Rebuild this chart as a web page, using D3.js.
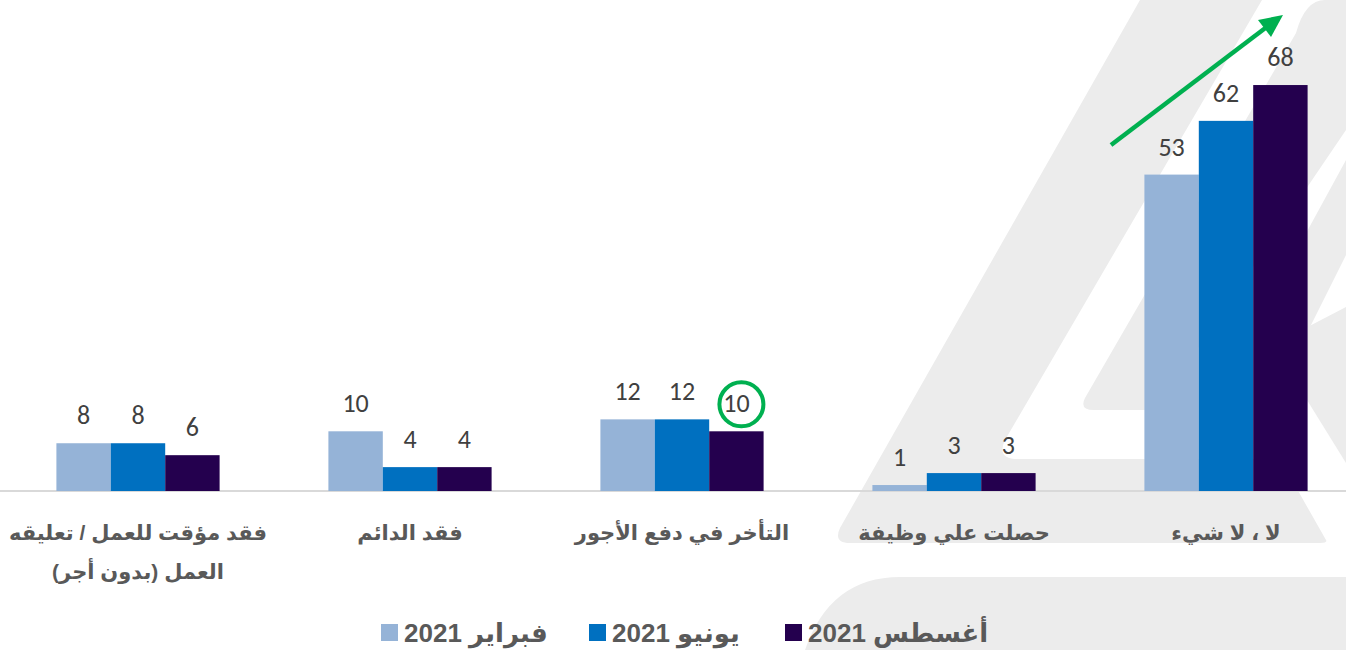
<!DOCTYPE html>
<html>
<head>
<meta charset="utf-8">
<script src="https://cdn.jsdelivr.net/npm/d3@7"></script>
<style>
  body { margin: 0; background: #fff; }
  .val { font-family: Carlito, Lato, "Open Sans", sans-serif; font-size: 26px; fill: #404040; }
  .cat { font-family: "Liberation Sans", "DejaVu Sans", sans-serif; font-weight: bold; font-size: 21px; fill: #595959; }
  .leg { font-family: "Liberation Sans", "DejaVu Sans", sans-serif; font-weight: bold; font-size: 26px; fill: #595959; }
</style>
</head>
<body>
<div class="chart"></div>
<script>
// data
var categories = ["فقد مؤقت للعمل / تعليقه العمل (بدون أجر)", "فقد الدائم", "التأخر في دفع الأجور", "حصلت علي وظيفة", "لا ، لا شيء"];
var categoryLines = [["فقد مؤقت للعمل / تعليقه", "العمل (بدون أجر)"], ["فقد الدائم"], ["التأخر في دفع الأجور"], ["حصلت علي وظيفة"], ["لا ، لا شيء"]];
var seriesNames = ["فبراير 2021", "يونيو 2021", "أغسطس 2021"];
var feb2021 = [8, 10, 12, 1, 53];
var jun2021 = [8, 4, 12, 3, 62];
var aug2021 = [6, 4, 10, 3, 68];
var colors = ["#95b3d7", "#0070c0", "#24004e"];

var svgWidth = 1346, svgHeight = 650;

var svg = d3.select(".chart")
  .append("svg")
  .attr("width", svgWidth)
  .attr("height", svgHeight)
  .style("display", "block");

svg.append("rect").attr("width", svgWidth).attr("height", svgHeight).attr("fill", "#fff");

// watermark shapes in the background
var wm = svg.append("g").attr("fill", "#ececec");
wm.append("path").attr("d", "M1140,0 L1262,0 L1005,440 Q996,459 1018,459 L1280,459 L1326,540 Q1328,543 1320,543 L850,543 Q833,543 840,528 Z");
wm.append("path").attr("d", "M1296,33 Q1305,0 1325,0 L1346,0 L1346,130 L1156,410 L1094,410 Q1079,410 1085,398 Z");
wm.append("path").attr("d", "M1346,160 L1346,255 L1307,333 L1262,333 L1262,314 Z");
wm.append("path").attr("d", "M1296,333 L1346,307 L1346,463 L1307,400 L1296,400 Z");
wm.append("path").attr("d", "M900,577 L1346,577 L1346,650 L805,650 Q830,577 900,577 Z");

// scales
var x0 = d3.scaleBand()
  .domain(categories)
  .range([2, 1362])
  .paddingInner(0.4)
  .paddingOuter(0.2);

var x1 = d3.scaleBand()
  .domain(seriesNames)
  .range([0, x0.bandwidth()]);

var y = d3.scaleLinear()
  .domain([0, 70])
  .range([491, 491 - 70 * 5.97]);

var rows = categories.map(function(c, i) {
  return { cat: c, lines: categoryLines[i], vals: [feb2021[i], jun2021[i], aug2021[i]] };
});

// baseline axis
var xAxis = d3.axisBottom(x0).tickSize(0).tickFormat("");
var axisG = svg.append("g")
  .attr("transform", "translate(0," + y(0) + ")")
  .call(xAxis);
axisG.select(".domain").attr("d", "M0,0H" + svgWidth).attr("stroke", "#d9d9d9").attr("stroke-width", 2);

// bars
var groups = svg.selectAll(".grp")
  .data(rows)
  .enter()
  .append("g")
  .attr("class", "grp")
  .attr("transform", function(d) { return "translate(" + x0(d.cat) + ",0)"; });

groups.selectAll("rect")
  .data(function(d) { return d.vals.map(function(v, j) { return { s: seriesNames[j], v: v, j: j }; }); })
  .enter()
  .append("rect")
  .attr("x", function(d) { return x1(d.s); })
  .attr("y", function(d) { return y(d.v); })
  .attr("width", x1.bandwidth())
  .attr("height", function(d) { return y(0) - y(d.v); })
  .attr("fill", function(d) { return colors[d.j]; });

// value labels
groups.selectAll(".val")
  .data(function(d) { return d.vals.map(function(v, j) { return { s: seriesNames[j], v: v }; }); })
  .enter()
  .append("text")
  .attr("class", "val")
  .attr("x", function(d) { return x1(d.s) + x1.bandwidth() / 2; })
  .attr("y", function(d) { return y(d.v) - 19; })
  .attr("text-anchor", "middle")
  .text(function(d) { return d.v; });

// category labels
groups.each(function(d) {
  var t = d3.select(this).append("text")
    .attr("class", "cat")
    .attr("direction", "rtl")
    .attr("text-anchor", "middle")
    .attr("x", x0.bandwidth() / 2)
    .attr("y", 540);
  d.lines.forEach(function(line, k) {
    t.append("tspan")
      .attr("x", x0.bandwidth() / 2)
      .attr("dy", k === 0 ? 0 : 39)
      .text(line);
  });
});

// green circle around the August label of the wage delay group
var ci = 2;
svg.append("circle")
  .attr("cx", x0(categories[ci]) + x1(seriesNames[2]) + x1.bandwidth() / 2 + 5)
  .attr("cy", y(aug2021[ci]) - 27)
  .attr("r", 22)
  .attr("fill", "none")
  .attr("stroke", "#00b050")
  .attr("stroke-width", 4);

// green trend arrow
svg.append("line")
  .attr("x1", 1111).attr("y1", 145)
  .attr("x2", 1268).attr("y2", 26)
  .attr("stroke", "#00b050")
  .attr("stroke-width", 4.5);
svg.append("path")
  .attr("d", "M1283,15 L1258,20 L1271,37 Z")
  .attr("fill", "#00b050");

// legend
var legend = svg.append("g");
var legendStarts = [381, 589, 785];
seriesNames.forEach(function(name, j) {
  var g = legend.append("g").attr("transform", "translate(" + legendStarts[j] + ",0)");
  g.append("rect")
    .attr("x", 0).attr("y", 624)
    .attr("width", 17).attr("height", 17)
    .attr("fill", colors[j]);
  var t = g.append("text")
    .attr("class", "leg")
    .attr("direction", "rtl")
    .attr("text-anchor", "middle")
    .attr("y", 642)
    .text(name);
  var w = t.node().getComputedTextLength();
  t.attr("x", 23 + w / 2);
});
</script>
</body>
</html>
